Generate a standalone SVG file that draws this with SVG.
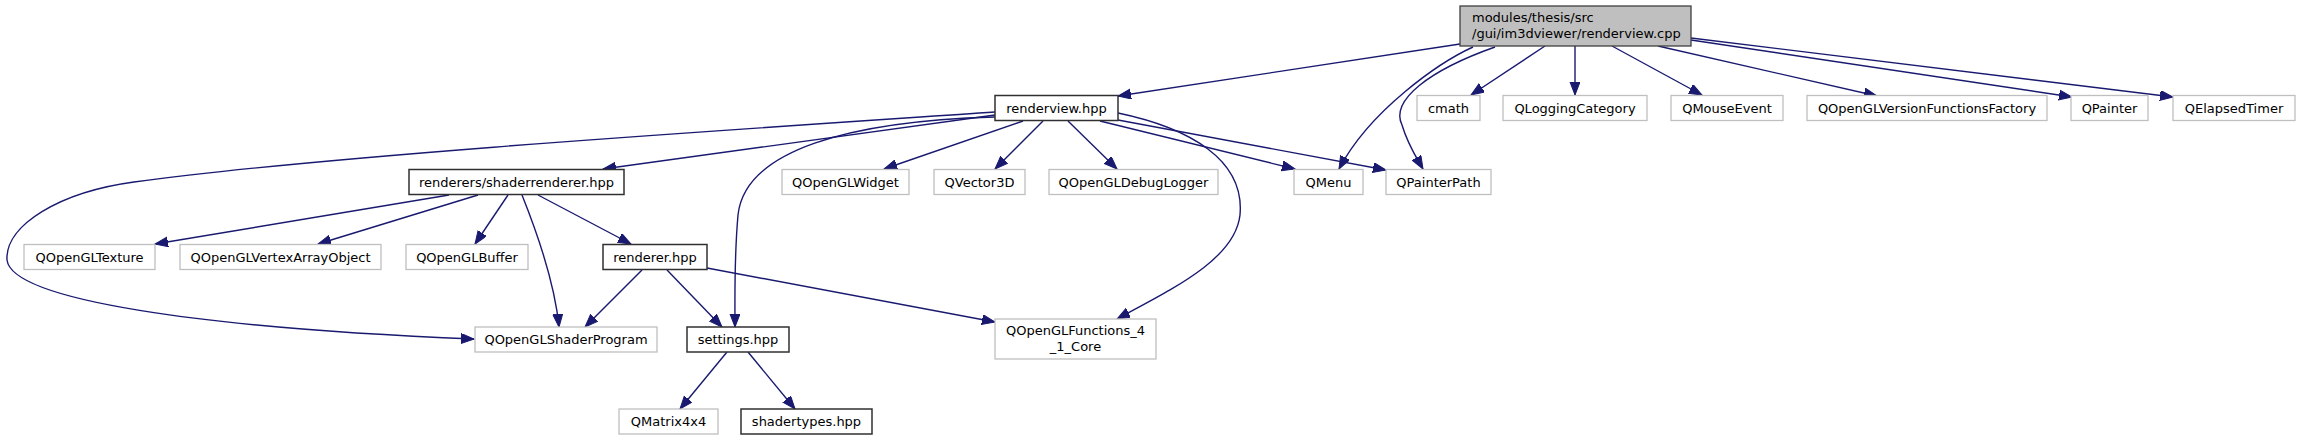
<svg xmlns="http://www.w3.org/2000/svg" width="2300" height="440" viewBox="0 0 2300 440">
<style>
text{font-family:"DejaVu Sans","Liberation Sans",sans-serif;font-size:13px;fill:#000;text-anchor:middle}
.root rect{fill:#bfbfbf;stroke:#404040;stroke-width:1.3}
.hdr rect{fill:#fff;stroke:#303030;stroke-width:1.5}
.ext rect{fill:#fff;stroke:#bfbfbf;stroke-width:1.3}
.edges path{fill:none;stroke:#191970;stroke-width:1.4;marker-end:url(#arr)}
</style>
<defs>
<marker id="arr" markerUnits="userSpaceOnUse" markerWidth="14" markerHeight="11" refX="13" refY="5" orient="auto">
<path d="M0,0 L13,5 L0,10 z" fill="#191970" stroke="#191970" stroke-width="1"/>
</marker>
</defs>
<rect width="2300" height="440" fill="#fff"/>
<g class="edges">
<path d="M1460,44 L1118,96"/>
<path d="M1473,47 C1440,62 1370,110 1339,169"/>
<path d="M1495,47 C1430,70 1390,100 1402,125 C1408,145 1415,155 1423,169"/>
<path d="M1545,46 L1471,95"/>
<path d="M1575,46 L1575,95"/>
<path d="M1612,46 L1702,95"/>
<path d="M1658,46 L1877,96"/>
<path d="M1691,40 L2072,97"/>
<path d="M1691,38 L2173,97"/>
<path d="M1100,121 L1295,169"/>
<path d="M1118,120 L1386,170"/>
<path d="M1043,121 L995,169"/>
<path d="M1068,121 L1117,169"/>
<path d="M1023,121 L884,169"/>
<path d="M995,115 L603,169"/>
<path d="M995,112 C760,128 330,155 134,182 C60,192 5,225 7,260 C12,300 200,328 474,339"/>
<path d="M995,117 C850,121 745,150 738,215 C734,260 735,300 735,327"/>
<path d="M1118,113 C1190,128 1245,160 1240,215 C1235,260 1170,290 1117,319"/>
<path d="M449,195 L155,244"/>
<path d="M478,195 L318,244"/>
<path d="M508,195 L475,244"/>
<path d="M522,195 C540,240 555,285 559,327"/>
<path d="M538,195 L631,244"/>
<path d="M642,270 L585,327"/>
<path d="M667,270 L722,327"/>
<path d="M707,268 L995,322"/>
<path d="M727,352 L680,409"/>
<path d="M748,352 L795,409"/>
</g>
<g id="root" class="root"><rect x="1460" y="6" width="231" height="40"/>
<text x="1472" y="21.5" style="text-anchor:start">modules/thesis/src</text>
<text x="1472" y="37.5" style="text-anchor:start">/gui/im3dviewer/renderview.cpp</text></g>
<g id="cmath" class="ext"><rect x="1417" y="95.5" width="63" height="25"/><text x="1448.5" y="112.5">cmath</text></g>
<g id="qloggingcategory" class="ext"><rect x="1503" y="95.5" width="144" height="25"/><text x="1575" y="112.5">QLoggingCategory</text></g>
<g id="qmouseevent" class="ext"><rect x="1671" y="95.5" width="112" height="25"/><text x="1727" y="112.5">QMouseEvent</text></g>
<g id="qopenglversionfunctionsfactory" class="ext"><rect x="1807" y="95.5" width="240" height="25"/><text x="1927" y="112.5">QOpenGLVersionFunctionsFactory</text></g>
<g id="qpainter" class="ext"><rect x="2071" y="95.5" width="77" height="25"/><text x="2109.5" y="112.5">QPainter</text></g>
<g id="qelapsedtimer" class="ext"><rect x="2173" y="95.5" width="122" height="25"/><text x="2234" y="112.5">QElapsedTimer</text></g>
<g id="renderview" class="hdr"><rect x="995" y="95.5" width="123" height="25"/><text x="1056.5" y="112.5">renderview.hpp</text></g>
<g id="shaderrenderer" class="hdr"><rect x="409" y="169.5" width="215" height="25"/><text x="516.5" y="186.5">renderers/shaderrenderer.hpp</text></g>
<g id="qopenglwidget" class="ext"><rect x="782" y="169.5" width="127" height="25"/><text x="845.5" y="186.5">QOpenGLWidget</text></g>
<g id="qvector3d" class="ext"><rect x="934" y="169.5" width="91" height="25"/><text x="979.5" y="186.5">QVector3D</text></g>
<g id="qopengldebuglogger" class="ext"><rect x="1049" y="169.5" width="169" height="25"/><text x="1133.5" y="186.5">QOpenGLDebugLogger</text></g>
<g id="qmenu" class="ext"><rect x="1294" y="169.5" width="69" height="25"/><text x="1328.5" y="186.5">QMenu</text></g>
<g id="qpainterpath" class="ext"><rect x="1386" y="169.5" width="105" height="25"/><text x="1438.5" y="186.5">QPainterPath</text></g>
<g id="qopengltexture" class="ext"><rect x="24" y="244.5" width="131" height="25"/><text x="89.5" y="261.5">QOpenGLTexture</text></g>
<g id="qopenglvertexarrayobject" class="ext"><rect x="180" y="244.5" width="201" height="25"/><text x="280.5" y="261.5">QOpenGLVertexArrayObject</text></g>
<g id="qopenglbuffer" class="ext"><rect x="406" y="244.5" width="122" height="25"/><text x="467" y="261.5">QOpenGLBuffer</text></g>
<g id="renderer" class="hdr"><rect x="603" y="244.5" width="104" height="25"/><text x="655" y="261.5">renderer.hpp</text></g>
<g id="qopenglshaderprogram" class="ext"><rect x="475" y="327" width="182" height="25"/><text x="566" y="344">QOpenGLShaderProgram</text></g>
<g id="settings" class="hdr"><rect x="687" y="327" width="102" height="25"/><text x="738" y="344">settings.hpp</text></g>
<g id="qopenglfunctions" class="ext"><rect x="995" y="319" width="161" height="40"/><text x="1075.5" y="335">QOpenGLFunctions_4</text><text x="1075.5" y="351">_1_Core</text></g>
<g id="qmatrix4x4" class="ext"><rect x="619" y="409" width="99" height="25"/><text x="668.5" y="426">QMatrix4x4</text></g>
<g id="shadertypes" class="hdr"><rect x="741" y="409" width="131" height="25"/><text x="806.5" y="426">shadertypes.hpp</text></g>
</svg>
